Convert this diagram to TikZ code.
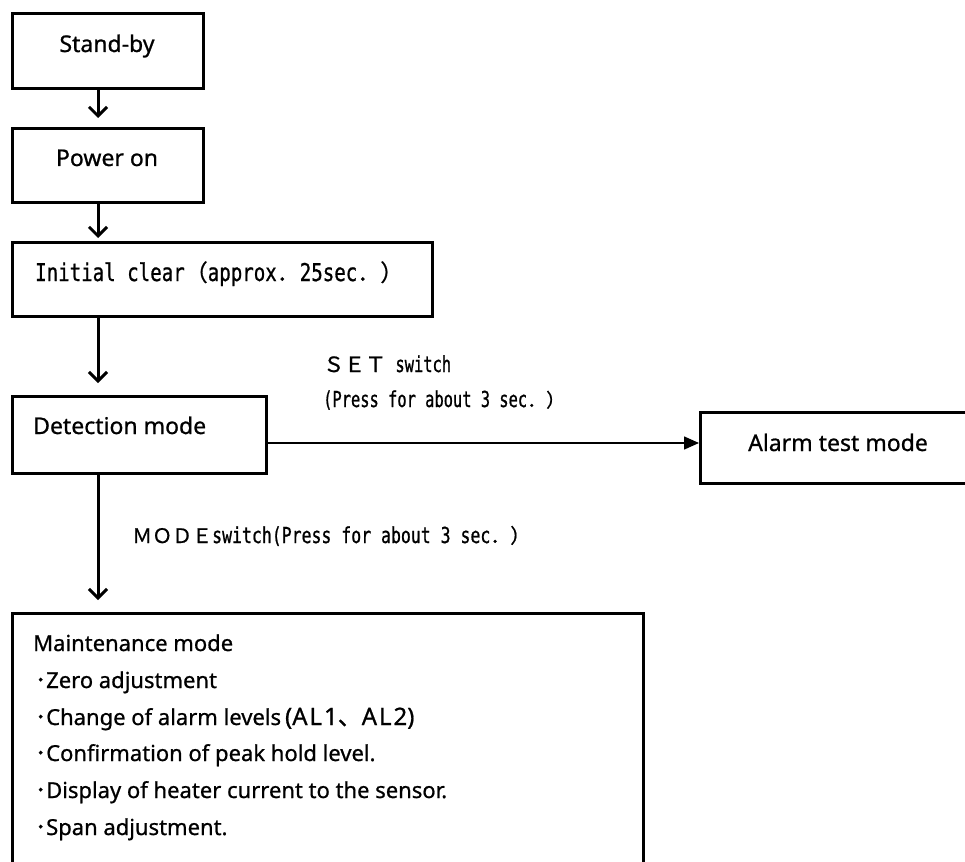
\documentclass[tikz,border=0pt]{standalone}
\usepackage{fontspec}
\setmainfont{Noto Sans}[FakeBold=0.8]
\newfontfamily\wide[LetterSpace=8,FakeBold=0.8]{Noto Sans}
\newfontfamily\cjk[FakeBold=0.8]{Noto Sans CJK JP}
\newfontfamily\monoA[FakeStretch=0.78,FakeBold=0.8]{DejaVu Sans Mono}
\newfontfamily\monoB[FakeStretch=0.70,FakeBold=0.8]{DejaVu Sans Mono}
\newfontfamily\monoC[FakeStretch=0.75,FakeBold=0.8]{DejaVu Sans Mono}
\usetikzlibrary{arrows.meta}
\begin{document}
\begin{tikzpicture}[x=1pt,y=-1pt,
  box/.style={draw,line width=3pt,inner sep=0pt,anchor=north west},
  lbl/.style={inner sep=0pt,anchor=base west},
  boxfont/.style={font=\fontsize{23}{23}\selectfont},
  mfont/.style={font=\fontsize{22}{22}\selectfont},
  varrow/.style={line width=3pt,-{Straight Barb[length=9pt,width=18pt]}},
  harrow/.style={line width=1.5pt,-{Triangle[length=15pt,width=13pt]}}]
\clip (0,0) rectangle (965,861);
\fill[white] (0,0) rectangle (965,861);

% boxes
\node[box,minimum width=191pt,minimum height=75pt] (standby) at (11,12) {};
\node[box,minimum width=191pt,minimum height=74pt] (poweron) at (11,127) {};
\node[box,minimum width=420pt,minimum height=74pt] (initial) at (11,241) {};
\node[box,minimum width=254pt,minimum height=77pt] (detect) at (11,395) {};
\node[box,minimum width=291pt,minimum height=71pt] (alarm) at (699,411) {};
\node[box,minimum width=631pt,minimum height=288pt] (maint) at (11,612) {};

% box texts
\node[inner sep=0pt,anchor=base,boxfont] (tstandby) at (107,52) {Stand-by};
\node[inner sep=0pt,anchor=base,boxfont] (tpoweron) at (107,166) {Power on};
\node[lbl] (tinitial) at (35,281) {\fontsize{24.5}{24.5}\monoA Initial clear{\cjk\fontsize{23}{23}\selectfont （}approx{\cjk\fontsize{23}{23}\selectfont ．}25sec{\cjk\fontsize{23}{23}\selectfont ．）}};
\node[lbl,boxfont] (tdetect) at (33,434) {Detection mode};
\node[lbl,boxfont] (talarm) at (748,451) {Alarm test mode};

% maintenance list
\node[lbl,mfont] (m0) at (33,651) {Maintenance mode};
\node[lbl,mfont] (m1) at (35,688) {{\cjk ･}Zero adjustment};
\node[lbl,mfont] (m2) at (35,725) {{\cjk ･}Change of alarm levels{\fontsize{24}{24}\selectfont\,(\wide AL1{\cjk 、}AL2\normalfont)}};
\node[lbl,mfont] (m3) at (35,761) {{\cjk ･}Confirmation of peak hold level.};
\node[lbl,mfont] (m4) at (35,798) {{\cjk ･}Display of heater current to the sensor.};
\node[lbl,mfont] (m5) at (35,835) {{\cjk ･}Span adjustment.};

% connector labels
\node[lbl] (tset) at (323,372) {\fontsize{21}{21}\cjk ＳＥＴ\fontsize{22}{22}\monoB\ switch};
\node[lbl] (tpress) at (323,407) {\fontsize{22}{22}\monoB (Press for about 3 sec{\cjk\fontsize{19}{19}\selectfont ．）}};
\node[lbl] (tmode) at (132,543) {\fontsize{20}{20}\cjk ＭＯＤＥ\fontsize{22}{22}\monoC switch(Press for about 3 sec{\cjk\fontsize{20}{20}\selectfont ．）}};

% connectors
\coordinate (t1) at (98,118);
\coordinate (t2) at (98,238);
\coordinate (t3) at (98,383);
\coordinate (t4) at (98,600);
\coordinate (h1) at (0,443);
\draw[varrow] (standby.south -| t1) -- (t1);
\draw[varrow] (poweron.south -| t2) -- (t2);
\draw[varrow] (initial.south -| t3) -- (t3);
\draw[varrow] (detect.south -| t4) -- (t4);
\draw[harrow] (detect.east |- h1) -- (alarm.west |- h1);
\end{tikzpicture}
\end{document}
